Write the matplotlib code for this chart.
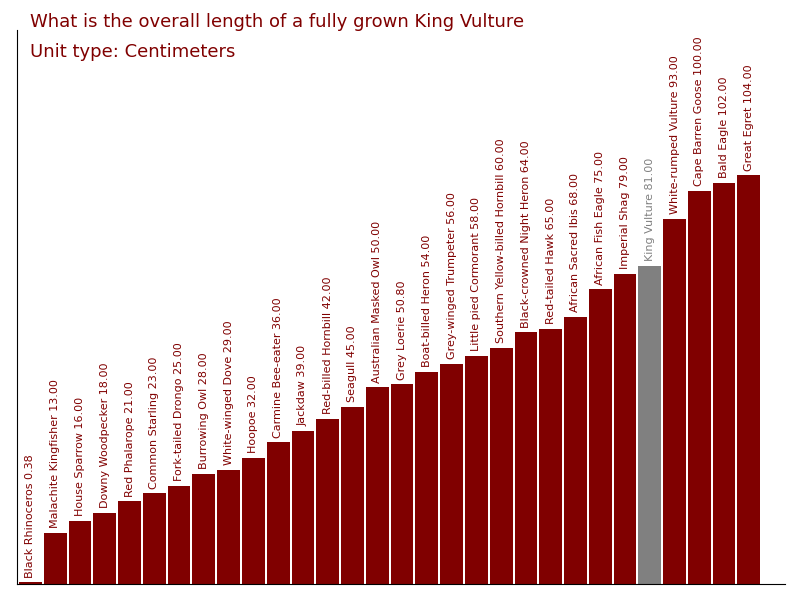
import matplotlib.pyplot as plt

names = ["Black Rhinoceros", "Malachite Kingfisher", "House Sparrow", "Downy Woodpecker",
         "Red Phalarope", "Common Starling", "Fork-tailed Drongo", "Burrowing Owl",
         "White-winged Dove", "Hoopoe", "Carmine Bee-eater", "Jackdaw", "Red-billed Hornbill",
         "Seagull", "Australian Masked Owl", "Grey Loerie", "Boat-billed Heron",
         "Grey-winged Trumpeter", "Little pied Cormorant", "Southern Yellow-billed Hornbill",
         "Black-crowned Night Heron", "Red-tailed Hawk", "African Sacred Ibis",
         "African Fish Eagle", "Imperial Shag", "King Vulture", "White-rumped Vulture",
         "Cape Barren Goose", "Bald Eagle", "Great Egret"]
values = [0.38, 13, 16, 18, 21, 23, 25, 28, 29, 32, 36, 39, 42, 45, 50, 50.8, 54, 56, 58,
          60, 64, 65, 68, 75, 79, 81, 93, 100, 102, 104]
highlight = "King Vulture"

fig = plt.figure(figsize=(8, 6), dpi=100)
ax = fig.add_axes([0.021, 0.027, 0.96, 0.923])
x = list(range(len(values)))
colors = ['#808080' if n == highlight else '#800000' for n in names]
ax.bar(x, values, width=0.92, color=colors)
for i, (n, v) in enumerate(zip(names, values)):
    ax.text(i, v + 1.2, f"{n} {v:.2f}", rotation=90, ha='center', va='bottom',
            fontsize=8, color=colors[i])
ax.set_xlim(-0.55, len(values) + 0.45)
ax.set_ylim(0, 141)
ax.set_xticks([])
ax.set_yticks([])
ax.spines['top'].set_visible(False)
ax.spines['right'].set_visible(False)
fig.text(0.037, 0.963, "What is the overall length of a fully grown King Vulture",
         color='#800000', fontsize=13, va='center')
fig.text(0.037, 0.913, "Unit type: Centimeters", color='#800000', fontsize=13, va='center')
fig.savefig('out.png')
